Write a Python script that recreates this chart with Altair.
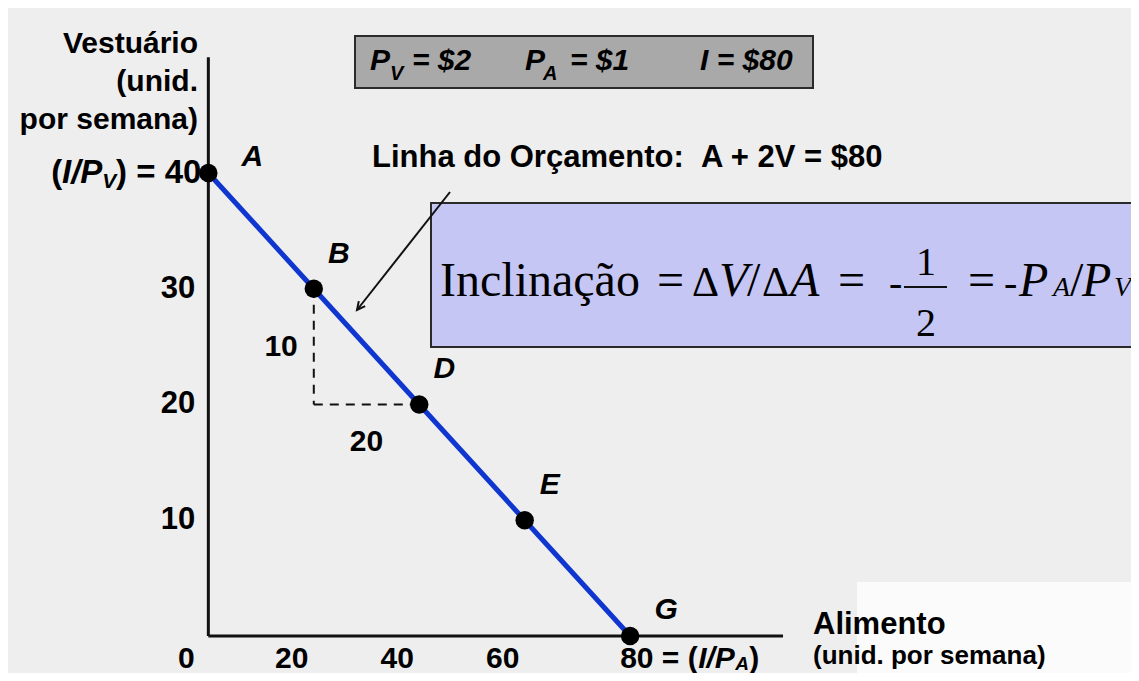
import altair as alt
import pandas as pd

# ---------------- data ----------------
POINT_LABELS = ["A", "B", "D", "E", "G"]
ALIMENTO = [0, 20, 40, 60, 80]          # unid. por semana
VESTUARIO = [40, 30, 20, 10, 0]         # unid. por semana
X_TICKS = [0, 20, 40, 60]
X_TICK_LABELS = ["0", "20", "40", "60"]
Y_TICKS = [30, 20, 10]
Y_TICK_LABELS = ["30", "20", "10"]
AXIS_X_END = 109
AXIS_Y_END = 50

SANS = "Liberation Sans"
SERIF = "Liberation Serif"
BLUE = "#0f37d0"
INK = "#111111"

W, H = 1123, 665
XS = alt.Scale(domain=[-38, 175], nice=False, zero=False)
YS = alt.Scale(domain=[-3.2, 54.25], nice=False, zero=False)

pts = pd.DataFrame({"ponto": POINT_LABELS, "A": ALIMENTO, "V": VESTUARIO})
ONE = pd.DataFrame({"k": [0]})


def X(field="A"):
    return alt.X(f"{field}:Q", scale=XS, axis=None)


def Y(field="V"):
    return alt.Y(f"{field}:Q", scale=YS, axis=None)


def P(v):
    return alt.value(v - 8)


def txt(s, x, y, size, style="normal", weight="bold", align="left", font=SANS):
    return alt.Chart(ONE).mark_text(
        text=s, fontSize=size, fontStyle=style, fontWeight=weight, align=align,
        baseline="alphabetic", font=font, color="black"
    ).encode(x=P(x), y=P(y))


def box(x1, y1, x2, y2, fill):
    return alt.Chart(ONE).mark_rect(fill=fill, stroke="#2a2a2a", strokeWidth=2).encode(
        x=P(x1), x2=P(x2), y=P(y1), y2=P(y2))


layers = []

# white patch lower right (slide background)
layers.append(alt.Chart(ONE).mark_rect(fill="#fbfbfb").encode(
    x=P(857), x2=P(1139), y=P(582), y2=P(681)))

# boxes
layers.append(box(355, 36, 813, 88, "#a9a9a9"))
layers.append(box(431, 203, 1150, 347, "#c6c6f4"))

# axes lines
ax_df = pd.DataFrame({"A": [0], "V": [0], "A2": [AXIS_X_END], "V2": [AXIS_Y_END]})
layers.append(alt.Chart(ax_df).mark_rule(color=INK, strokeWidth=3).encode(
    x=X("A"), y=Y("V"), y2="V2:Q"))
layers.append(alt.Chart(ax_df).mark_rule(color=INK, strokeWidth=3).encode(
    x=X("A"), x2="A2:Q", y=Y("V")))

# dashed slope triangle between B and D
b = POINT_LABELS.index("B")
d = POINT_LABELS.index("D")
tri_v = pd.DataFrame({"A": [ALIMENTO[b]], "V": [VESTUARIO[b]], "V2": [VESTUARIO[d]]})
tri_h = pd.DataFrame({"A": [ALIMENTO[b]], "A2": [ALIMENTO[d]], "V": [VESTUARIO[d]]})
layers.append(alt.Chart(tri_v).mark_rule(color=INK, strokeWidth=2, strokeDash=[9, 7]).encode(
    x=X("A"), y=Y("V"), y2="V2:Q"))
layers.append(alt.Chart(tri_h).mark_rule(color=INK, strokeWidth=2, strokeDash=[9, 7]).encode(
    x=X("A"), x2="A2:Q", y=Y("V")))
rise = pd.DataFrame({"A": [ALIMENTO[b]], "V": [(VESTUARIO[b] + VESTUARIO[d]) / 2],
                     "t": [str(VESTUARIO[b] - VESTUARIO[d])]})
run = pd.DataFrame({"A": [(ALIMENTO[b] + ALIMENTO[d]) / 2], "V": [VESTUARIO[d]],
                    "t": [str(ALIMENTO[d] - ALIMENTO[b])]})
layers.append(alt.Chart(rise).mark_text(font=SANS, fontWeight="bold", fontSize=30, align="right",
                                        baseline="middle", dx=-16).encode(x=X(), y=Y(), text="t:N"))
layers.append(alt.Chart(run).mark_text(font=SANS, fontWeight="bold", fontSize=30, align="center",
                                       baseline="middle", dy=38).encode(x=X(), y=Y(), text="t:N"))

# budget line and points
layers.append(alt.Chart(pts).mark_line(color=BLUE, strokeWidth=5).encode(x=X(), y=Y()))
layers.append(alt.Chart(pts).mark_circle(size=340, color="black", opacity=1).encode(x=X(), y=Y()))


def pt_label(names, dx, dy):
    return alt.Chart(pts).transform_filter(
        alt.FieldOneOfPredicate(field="ponto", oneOf=names)
    ).mark_text(font=SANS, fontWeight="bold", fontStyle="italic", fontSize=30,
                align="center", baseline="middle", dx=dx, dy=dy).encode(x=X(), y=Y(), text="ponto:N")


layers.append(pt_label(["B", "D", "E"], 25, -35))
layers.append(pt_label(["A"], 44, -16))
layers.append(pt_label(["G"], 36, -26))

# y tick labels
yt = pd.DataFrame({"A": [0] * len(Y_TICKS), "V": Y_TICKS, "t": Y_TICK_LABELS})
layers.append(alt.Chart(yt).mark_text(font=SANS, fontWeight="bold", fontSize=31, align="right",
                                      baseline="middle", dx=-13).encode(x=X(), y=Y(), text="t:N"))
# "(I/PV) = 40"
top = pd.DataFrame({"A": [0], "V": [40]})


def top_piece(s, dx, dy=0, size=33, style="normal"):
    return alt.Chart(top).mark_text(text=s, font=SANS, fontWeight="bold", fontStyle=style, fontSize=size,
                                    align="right", baseline="middle", dx=dx, dy=dy).encode(x=X(), y=Y())


layers.append(top_piece(")\u00a0=\u00a040", -7))
layers.append(top_piece("V", -92, 9, 21, "italic"))
layers.append(top_piece("I/P", -106, 0, 33, "italic"))
layers.append(top_piece("(", -146))

# x tick labels
xt = pd.DataFrame({"A": X_TICKS, "V": [0] * len(X_TICKS), "t": X_TICK_LABELS})
layers.append(alt.Chart(xt).mark_text(font=SANS, fontWeight="bold", fontSize=30, align="center",
                                      baseline="alphabetic", dx=-22, dy=32).encode(x=X(), y=Y(), text="t:N"))
end = pd.DataFrame({"A": [80], "V": [0]})


def end_piece(s, dx, dy=32, size=30, style="normal"):
    return alt.Chart(end).mark_text(text=s, font=SANS, fontWeight="bold", fontStyle=style, fontSize=size,
                                    align="left", baseline="alphabetic", dx=dx, dy=dy).encode(x=X(), y=Y())


layers.append(end_piece("80\u00a0=\u00a0(", -10))
layers.append(end_piece("I/P", 68, 32, 30, "italic"))
layers.append(end_piece("A", 105, 34, 19, "italic"))
layers.append(end_piece(")", 119, 32))

# axis titles
layers.append(txt("Vestuário", 198, 53, 30, align="right"))
layers.append(txt("(unid.", 198, 91, 30, align="right"))
layers.append(txt("por semana)", 198, 129, 30, align="right"))
layers.append(txt("Alimento", 813, 634, 31))
layers.append(txt("(unid. por semana)", 813, 664, 26))

# price box text
for s, x, y, size in [("P", 370, 70, 30), ("V", 390, 80, 20), ("=\u00a0$2", 412, 70, 30),
                      ("P", 525, 70, 30), ("A", 543, 80, 20), ("=\u00a0$1", 570, 70, 30),
                      ("I\u00a0=\u00a0$80", 700, 70, 30)]:
    layers.append(txt(s, x, y, size, style="italic"))

# budget line label and arrow
layers.append(txt("Linha do Orçamento:\u00a0\u00a0A + 2V = $80", 372, 167, 31))
layers.append(alt.Chart(ONE).mark_rule(color=INK, strokeWidth=2).encode(
    x=P(450), y=P(192), x2=P(357), y2=P(310)))
layers.append(alt.Chart(ONE).mark_point(shape="M -0.5 1 L 0 0 L 0.5 1", filled=False, color=INK,
                                        strokeWidth=2, size=260, angle=218, opacity=1).encode(
    x=P(357), y=P(310)))

# slope formula
for s, x, y, size, style in [("Inclinação", 440, 296, 48, "normal"), ("=", 657, 296, 48, "normal"),
                             ("Δ", 692, 296, 42, "normal"), ("V", 719, 296, 48, "italic"),
                             ("/", 747, 296, 48, "normal"), ("Δ", 762, 296, 42, "normal"),
                             ("A", 790, 296, 48, "italic"), ("=", 838, 296, 48, "normal"),
                             ("-", 889, 296, 40, "normal"), ("=", 968, 296, 48, "normal"),
                             ("-", 1004, 296, 40, "normal"), ("P", 1019, 296, 48, "italic"),
                             ("A", 1053, 296, 28, "italic"), ("/", 1070, 296, 48, "normal"),
                             ("P", 1082, 296, 48, "italic"), ("V", 1114, 296, 28, "italic")]:
    layers.append(txt(s, x, y, size, style=style, weight="normal", font=SERIF))
layers.append(txt("1", 926, 275, 40, weight="normal", align="center", font=SERIF))
layers.append(txt("2", 926, 336, 40, weight="normal", align="center", font=SERIF))
layers.append(alt.Chart(ONE).mark_rule(color=INK, strokeWidth=2).encode(
    x=P(904), x2=P(947), y=P(287)))

chart = alt.layer(*layers).properties(
    width=W, height=H, padding=0, background="#eeeeee",
    autosize=alt.AutoSizeParams(type="none"),
).configure_view(strokeWidth=0)

chart.save("out.html", embed_options={"renderer": "svg", "actions": False})
